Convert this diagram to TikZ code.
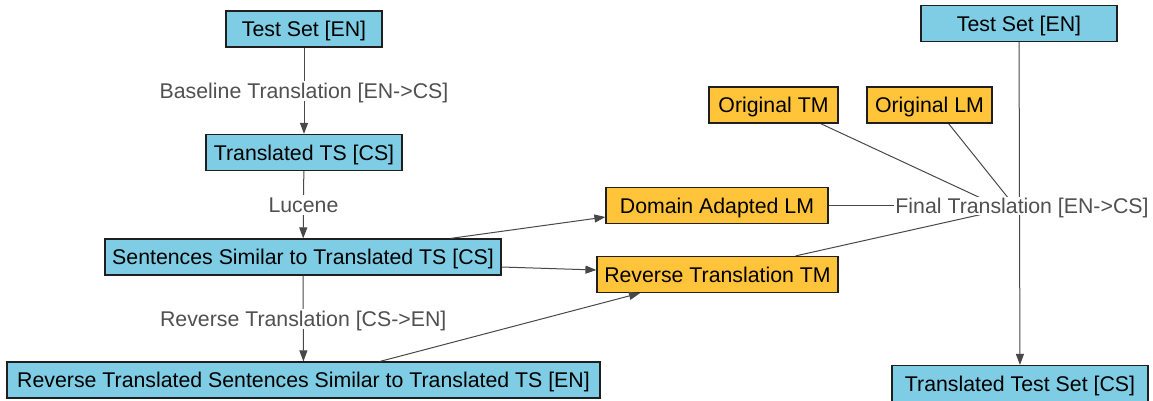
\documentclass[tikz,border=0pt]{standalone}
\usepackage{fontspec}
\setmainfont{Liberation Sans}
\usetikzlibrary{arrows.meta,backgrounds}
\definecolor{boxblue}{RGB}{126,205,228}
\definecolor{boxorange}{RGB}{255,196,58}
\definecolor{labgray}{RGB}{80,80,80}
\definecolor{linegray}{RGB}{72,72,72}
\begin{document}
\begin{tikzpicture}[x=1pt,y=-1pt,
  every node/.style={font=\fontsize{21.3}{25}\selectfont},
  box/.style={draw=black!88, line width=1.2pt, minimum height=36pt, inner sep=0pt,
    text height=15pt, text depth=0pt, text=black},
  bluebox/.style={box, fill=boxblue},
  orangebox/.style={box, fill=boxorange},
  lab/.style={fill=white, text=labgray, inner xsep=1.5pt, inner ysep=2.5pt,
    text height=15pt, text depth=0pt},
  conn/.style={draw=linegray, line width=1pt},
  arr/.style={conn, -{Triangle[length=11pt,width=8pt]}}
]
\useasboundingbox (0,0) rectangle (1153,400);

% nodes
\node[bluebox, minimum width=156pt] (ts1) at (304,29) {Test Set [EN]};
\node[bluebox, minimum width=196pt] (tts) at (304,152.5) {Translated TS [CS]};
\node[bluebox, minimum width=396pt] (sim) at (303,257) {Sentences Similar to Translated TS [CS]};
\node[bluebox, minimum width=593pt] (rev) at (303.5,380) {Reverse Translated Sentences Similar to Translated TS [EN]};
\node[orangebox, minimum width=222pt] (dalm) at (717,205.5) {Domain Adapted LM};
\node[orangebox, minimum width=241pt] (rtm) at (717.5,274.5) {Reverse Translation TM};
\node[orangebox, minimum width=129pt] (otm) at (773.5,105) {Original TM};
\node[orangebox, minimum width=125pt] (olm) at (929.5,105) {Original LM};
\node[bluebox, minimum width=196pt] (ts2) at (1019,23.5) {Test Set [EN]};
\node[bluebox, minimum width=256pt] (tts2) at (1020,383.5) {Translated Test Set [CS]};

\node[lab, inner ysep=1.5pt] (ft) at (1022,206) {Final Translation [EN->CS]};

% left chain
\draw[arr] (ts1) -- node[lab]{Baseline Translation [EN->CS]} (tts);
\draw[arr] (tts) -- node[lab]{Lucene} (sim);
\draw[arr] (sim) -- node[lab]{Reverse Translation [CS->EN]} (rev);

\draw[arr] ([xshift=-51pt]sim.north east) -- ([yshift=-11.5pt]dalm.west);
\draw[arr] ([yshift=-10pt]sim.east) -- ([yshift=4.5pt]rtm.west);
\draw[arr] ([xshift=76.5pt]rev.north) -- ([xshift=-77.5pt]rtm.south);

% converging lines to final translation
\coordinate (m1) at (1000,207);
\coordinate (m2) at (1013,204);
\coordinate (m3) at (1010,208);
\begin{scope}[on background layer]
\draw[arr] (ts2) -- (tts2);
\draw[conn] ([xshift=-18pt]otm.south east) -- (m1);
\draw[conn] ([xshift=-44pt]olm.south east) -- (m2);
\draw[conn] ([xshift=-43pt]rtm.north east) -- (m3);
\end{scope}
\draw[conn] (dalm.east) -- (ft.west |- dalm.east);
\end{tikzpicture}
\end{document}
